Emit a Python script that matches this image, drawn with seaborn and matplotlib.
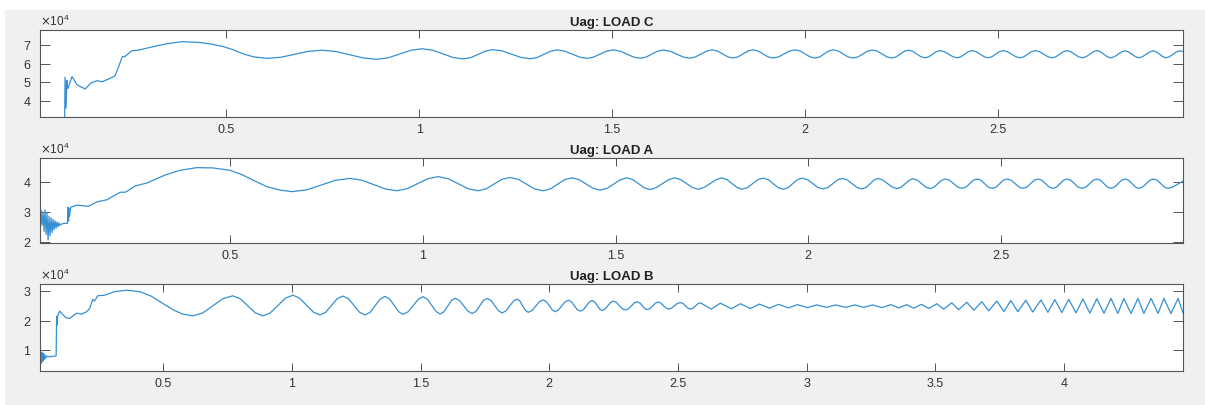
import numpy as np
import pandas as pd
import matplotlib
matplotlib.use("Agg")
import matplotlib.pyplot as plt
import seaborn as sns
from matplotlib.patches import Rectangle

# ---------------- data (values in units of 1e4) ----------------
# Uag: LOAD C
c_t = [0.0181, 0.0190, 0.0816, 0.0829, 0.0855, 0.0875, 0.0900, 0.101,
       0.114, 0.135, 0.150, 0.166, 0.179, 0.199, 0.212, 0.223,
       0.231, 0.238, 0.256, 0.272, 0.321, 0.350, 0.386, 0.430,
       0.459, 0.490, 0.518, 0.545,
       0.572, 0.606, 0.642, 0.713, 0.749, 0.785, 0.856, 0.891,
       0.920, 0.979, 1.008, 1.035, 1.088, 1.114, 1.134, 1.173,
       1.192, 1.216, 1.264, 1.288, 1.306, 1.341, 1.358, 1.377,
       1.416, 1.435, 1.452, 1.486, 1.503, 1.521, 1.556, 1.573,
       1.588, 1.617, 1.632, 1.650, 1.685, 1.702, 1.716, 1.745,
       1.759, 1.773, 1.800, 1.813, 1.826, 1.852, 1.865, 1.878,
       1.904, 1.917, 1.931, 1.960, 1.974, 1.987, 2.013, 2.026,
       2.038, 2.061, 2.073, 2.086, 2.111, 2.124, 2.137, 2.162,
       2.174, 2.187, 2.212, 2.225, 2.236, 2.257, 2.268, 2.279,
       2.300, 2.311, 2.321, 2.340, 2.350, 2.361, 2.383, 2.394,
       2.404, 2.423, 2.433, 2.443, 2.464, 2.474, 2.484, 2.503,
       2.513, 2.524, 2.546, 2.557, 2.567, 2.586, 2.596, 2.607,
       2.629, 2.640, 2.650, 2.669, 2.679, 2.689, 2.708, 2.718,
       2.728, 2.747, 2.756, 2.765, 2.783, 2.792, 2.801, 2.820,
       2.829, 2.838, 2.856, 2.865, 2.874, 2.893, 2.902, 2.910,
       2.927, 2.935, 2.944, 2.962, 2.971, 2.979]
c_v = [5.10, 2.50, 2.50, 5.27, 3.60, 5.10, 4.65, 5.30,
       4.85, 4.63, 4.95, 5.08, 5.02, 5.20, 5.33, 5.90,
       6.37, 6.38, 6.69, 6.72, 6.96, 7.08, 7.18, 7.14,
       7.06, 6.93, 6.75, 6.52,
       6.36, 6.28, 6.34, 6.66, 6.72, 6.65, 6.30, 6.23,
       6.31, 6.72, 6.80, 6.72, 6.33, 6.25, 6.32, 6.68,
       6.75, 6.68, 6.33, 6.26, 6.33, 6.67, 6.74, 6.67,
       6.35, 6.28, 6.35, 6.67, 6.74, 6.67, 6.35, 6.28,
       6.35, 6.66, 6.73, 6.67, 6.35, 6.29, 6.36, 6.67,
       6.74, 6.68, 6.36, 6.30, 6.36, 6.68, 6.74, 6.68,
       6.36, 6.30, 6.36, 6.68, 6.74, 6.68, 6.36, 6.30,
       6.36, 6.68, 6.74, 6.68, 6.36, 6.30, 6.36, 6.67,
       6.73, 6.67, 6.36, 6.30, 6.36, 6.66, 6.72, 6.66,
       6.37, 6.31, 6.37, 6.64, 6.70, 6.64, 6.37, 6.31,
       6.37, 6.64, 6.70, 6.64, 6.37, 6.31, 6.37, 6.64,
       6.70, 6.64, 6.37, 6.31, 6.37, 6.64, 6.70, 6.64,
       6.37, 6.31, 6.37, 6.64, 6.70, 6.64, 6.37, 6.31,
       6.37, 6.64, 6.70, 6.64, 6.37, 6.31, 6.37, 6.63,
       6.69, 6.63, 6.37, 6.31, 6.37, 6.63, 6.69, 6.63,
       6.37, 6.31, 6.37, 6.63, 6.69, 6.66]

# Uag: LOAD A
a_t = [0.0071, 0.0084, 0.0097, 0.0123, 0.0149, 0.0175, 0.0201, 0.0227,
       0.0253, 0.0279, 0.0305, 0.0331, 0.0357, 0.0383, 0.0409, 0.0435,
       0.0460, 0.0486, 0.0512, 0.0538, 0.0564, 0.0590, 0.0640, 0.0785,
       0.0798, 0.0810, 0.0824, 0.0837, 0.0863, 0.0927, 0.103, 0.132,
       0.155, 0.181, 0.194, 0.215, 0.228, 0.235, 0.254, 0.285,
       0.331, 0.370, 0.414, 0.455, 0.500, 0.530,
       0.565, 0.595, 0.630, 0.661, 0.699, 0.774,
       0.811, 0.842, 0.903, 0.933, 0.960, 1.013, 1.040, 1.066,
       1.117, 1.143, 1.164, 1.205, 1.226, 1.248, 1.290, 1.312,
       1.331, 1.368, 1.387, 1.405, 1.442, 1.460, 1.478, 1.513,
       1.530, 1.545, 1.574, 1.589, 1.605, 1.638, 1.654, 1.669,
       1.699, 1.714, 1.730, 1.761, 1.776, 1.789, 1.815, 1.828,
       1.842, 1.869, 1.883, 1.896, 1.922, 1.935, 1.947, 1.972,
       1.984, 1.998, 2.025, 2.038, 2.051, 2.076, 2.088, 2.101,
       2.126, 2.139, 2.150, 2.171, 2.181, 2.193, 2.218, 2.230,
       2.241, 2.262, 2.272, 2.283, 2.305, 2.316, 2.326, 2.345,
       2.355, 2.366, 2.388, 2.399, 2.409, 2.428, 2.438, 2.448,
       2.467, 2.477, 2.487, 2.506, 2.516, 2.526, 2.547, 2.557,
       2.567, 2.586, 2.596, 2.606, 2.625, 2.635, 2.644, 2.662,
       2.671, 2.681, 2.700, 2.710, 2.720, 2.739, 2.749, 2.758,
       2.776, 2.785, 2.794, 2.813, 2.822, 2.831, 2.849, 2.858,
       2.867, 2.886, 2.895, 2.905, 2.924, 2.933, 2.945, 2.960,
       2.972]
a_v = [3.35, 2.60, 3.05, 2.55, 3.00, 2.35, 3.06, 2.25,
       2.95, 2.06, 2.85, 2.20, 2.80, 2.30, 2.75, 2.40,
       2.70, 2.45, 2.66, 2.50, 2.63, 2.55, 2.60, 2.62,
       3.15, 2.70, 3.10, 2.85, 3.15, 3.18, 3.22, 3.18,
       3.33, 3.40, 3.50, 3.65, 3.65, 3.70, 3.86, 3.96,
       4.22, 4.38, 4.47, 4.46, 4.38, 4.24,
       4.02, 3.84, 3.72, 3.67, 3.73, 4.05,
       4.11, 4.05, 3.76, 3.70, 3.77, 4.10, 4.17, 4.10,
       3.77, 3.70, 3.76, 4.08, 4.14, 4.08, 3.76, 3.70,
       3.76, 4.07, 4.13, 4.07, 3.78, 3.72, 3.78, 4.07,
       4.13, 4.07, 3.80, 3.74, 3.80, 4.07, 4.13, 4.07,
       3.81, 3.75, 3.81, 4.07, 4.13, 4.07, 3.81, 3.75,
       3.80, 4.07, 4.12, 4.07, 3.80, 3.75, 3.80, 4.07,
       4.12, 4.07, 3.81, 3.76, 3.81, 4.06, 4.11, 4.06,
       3.81, 3.76, 3.81, 4.06, 4.11, 4.06, 3.82, 3.77,
       3.82, 4.05, 4.10, 4.05, 3.82, 3.77, 3.82, 4.04,
       4.09, 4.05, 3.82, 3.78, 3.82, 4.05, 4.09, 4.05,
       3.82, 3.78, 3.82, 4.05, 4.09, 4.05, 3.82, 3.78,
       3.82, 4.05, 4.09, 4.05, 3.82, 3.78, 3.82, 4.05,
       4.09, 4.05, 3.82, 3.78, 3.82, 4.05, 4.09, 4.05,
       3.82, 3.78, 3.82, 4.05, 4.09, 4.05, 3.82, 3.78,
       3.82, 4.05, 4.09, 4.05, 3.82, 3.78, 3.82, 3.93,
       4.02]

# Uag: LOAD B
b_t = [0.0195, 0.0206, 0.0233, 0.0253, 0.0272, 0.0292, 0.0311, 0.0330,
       0.0350, 0.0370, 0.0389, 0.0428, 0.0467, 0.0545, 0.0837, 0.0856,
       0.0875, 0.0895, 0.0973, 0.105, 0.121, 0.136, 0.163, 0.183,
       0.202, 0.214, 0.226, 0.233, 0.245, 0.272, 0.311, 0.358,
       0.409, 0.455, 0.498, 0.540,
       0.575, 0.615, 0.654, 0.731, 0.770, 0.799,
       0.858, 0.887, 0.916, 0.975, 1.004, 1.030, 1.083, 1.109,
       1.131, 1.176, 1.198, 1.220, 1.263, 1.284, 1.304, 1.343,
       1.362, 1.380, 1.415, 1.432, 1.452, 1.491, 1.510, 1.527,
       1.560, 1.576, 1.591, 1.620, 1.634, 1.651, 1.684, 1.700,
       1.715, 1.744, 1.759, 1.774, 1.803, 1.817, 1.832, 1.861,
       1.875, 1.886, 1.907, 1.918, 1.933, 1.962, 1.977, 1.989,
       2.012, 2.023, 2.036, 2.061, 2.074, 2.086, 2.109, 2.121,
       2.133, 2.156, 2.167, 2.177, 2.196, 2.206, 2.217, 2.238,
       2.249, 2.261, 2.284, 2.296, 2.308, 2.331, 2.342, 2.352,
       2.371, 2.381, 2.392, 2.413, 2.424, 2.434, 2.453, 2.463,
       2.475, 2.498, 2.510, 2.520, 2.539, 2.549, 2.559, 2.578,
       2.588, 2.630, 2.665, 2.708, 2.743, 2.782, 2.817, 2.856,
       2.891, 2.930, 2.965, 3.004, 3.039, 3.078, 3.113, 3.152,
       3.187, 3.222, 3.257, 3.292, 3.327, 3.358, 3.389, 3.416,
       3.447, 3.475, 3.506, 3.533, 3.564, 3.591, 3.623, 3.650,
       3.681, 3.708, 3.739, 3.767, 3.794, 3.821, 3.852, 3.879,
       3.911, 3.938, 3.965, 3.992, 4.019, 4.047, 4.074, 4.101,
       4.128, 4.156, 4.183, 4.210, 4.233, 4.261, 4.288, 4.311,
       4.339, 4.366, 4.389, 4.416, 4.444, 4.463]
b_v = [2.08, 0.60, 0.95, 0.55, 0.92, 0.60, 0.90, 0.63,
       0.87, 0.68, 0.84, 0.72, 0.80, 0.77, 0.80, 2.13,
       1.85, 2.15, 2.32, 2.25, 2.10, 2.07, 2.25, 2.22,
       2.30, 2.41, 2.72, 2.66, 2.84, 2.86, 2.98, 3.03,
       2.98, 2.82, 2.58, 2.36,
       2.22, 2.16, 2.26, 2.74, 2.84, 2.74,
       2.26, 2.16, 2.26, 2.76, 2.86, 2.76, 2.29, 2.19,
       2.28, 2.74, 2.83, 2.74, 2.28, 2.19, 2.28, 2.73,
       2.82, 2.73, 2.30, 2.21, 2.30, 2.72, 2.81, 2.72,
       2.31, 2.22, 2.30, 2.68, 2.76, 2.68, 2.32, 2.24,
       2.31, 2.68, 2.75, 2.68, 2.33, 2.26, 2.33, 2.66,
       2.73, 2.66, 2.35, 2.28, 2.34, 2.64, 2.70, 2.64,
       2.36, 2.30, 2.36, 2.63, 2.69, 2.64, 2.37, 2.32,
       2.37, 2.63, 2.68, 2.63, 2.39, 2.34, 2.39, 2.61,
       2.66, 2.62, 2.40, 2.36, 2.40, 2.60, 2.64, 2.60,
       2.41, 2.37, 2.41, 2.59, 2.63, 2.59, 2.43, 2.39,
       2.42, 2.58, 2.61, 2.58, 2.42, 2.39, 2.42, 2.57,
       2.60, 2.39, 2.59, 2.40, 2.57, 2.41, 2.56, 2.42,
       2.55, 2.43, 2.54, 2.44, 2.53, 2.45, 2.53, 2.45,
       2.53, 2.45, 2.53, 2.44, 2.54, 2.43, 2.54, 2.42,
       2.55, 2.41, 2.57, 2.39, 2.60, 2.37, 2.62, 2.35,
       2.64, 2.33, 2.66, 2.31, 2.68, 2.30, 2.69, 2.29,
       2.70, 2.28, 2.71, 2.27, 2.72, 2.26, 2.73, 2.25,
       2.74, 2.25, 2.75, 2.24, 2.75, 2.24, 2.75, 2.24,
       2.75, 2.24, 2.75, 2.24, 2.75, 2.26]

titles = ["Uag: LOAD C", "Uag: LOAD A", "Uag: LOAD B"]
xticks_list = [[0.5, 1, 1.5, 2, 2.5],
               [0.5, 1, 1.5, 2, 2.5],
               [0.5, 1, 1.5, 2, 2.5, 3, 3.5, 4]]
yticks_list = [[4, 5, 6, 7], [2, 3, 4], [1, 2, 3]]
xlims = [(0.018, 2.979), (0.007, 2.972), (0.021, 4.463)]
ylims = [(3.12, 7.81), (1.96, 4.79), (0.29, 3.24)]

assert len(c_t) == len(c_v) and len(a_t) == len(a_v) and len(b_t) == len(b_v)

# ---------------- style ----------------
sns.set_style("white")
plt.rcParams['font.family'] = ['Liberation Sans', 'DejaVu Sans']

W, H = 1205, 405
fig = plt.figure(figsize=(W / 100, H / 100), dpi=100, facecolor="white")
fig.patches.append(Rectangle((5 / W, 0), 1 - 5 / W, 1 - 10 / H, transform=fig.transFigure,
                             facecolor="#f0f0f0", edgecolor="none", zorder=-10))

# axes boxes in pixels: (left, top, right, bottom)
boxes = [(40, 30, 1183, 117), (40, 158, 1183, 243), (40, 284, 1183, 371)]
series = [(c_t, c_v), (a_t, a_v), (b_t, b_v)]
line_color = "#3590d3"
axis_color = "#555555"
label_color = "#333333"

for (l, t, r, b), (ts, vs), title, xt, yt, xl, yl in zip(
        boxes, series, titles, xticks_list, yticks_list, xlims, ylims):
    ax = fig.add_axes([l / W, 1 - b / H, (r - l) / W, (b - t) / H])
    ax.set_facecolor("white")
    df = pd.DataFrame({"t": ts, "v": np.asarray(vs) * 1e4})
    sns.lineplot(data=df, x="t", y="v", ax=ax, color=line_color, linewidth=0.9,
                 sort=False, estimator=None)
    ax.set_xlim(*xl)
    ax.set_ylim(yl[0] * 1e4, yl[1] * 1e4)
    ax.set_xticks(xt)
    ax.set_xticklabels([f"{v:g}" for v in xt])
    ax.set_yticks([v * 1e4 for v in yt])
    ax.ticklabel_format(axis="y", style="sci", scilimits=(4, 4), useMathText=True)
    ax.yaxis.get_offset_text().set_fontsize(8.5)
    ax.yaxis.get_offset_text().set_color("#777777")
    ax.set_xlabel("")
    ax.set_ylabel("")
    ax.set_title(title, fontsize=9.5, fontweight="bold", pad=3, color="#222222")
    for s in ax.spines.values():
        s.set_color(axis_color)
        s.set_linewidth(0.8)
        s.set_visible(True)
    ax.tick_params(axis="x", direction="in", length=6, width=0.7, color=axis_color,
                   top=True, bottom=True, labelsize=9, labelcolor=label_color, pad=5)
    ax.tick_params(axis="y", direction="in", length=7, width=0.7, color=axis_color,
                   left=True, right=True, labelsize=9, labelcolor=label_color, pad=6)

fig.savefig("out.png", dpi=100, facecolor=fig.get_facecolor())
